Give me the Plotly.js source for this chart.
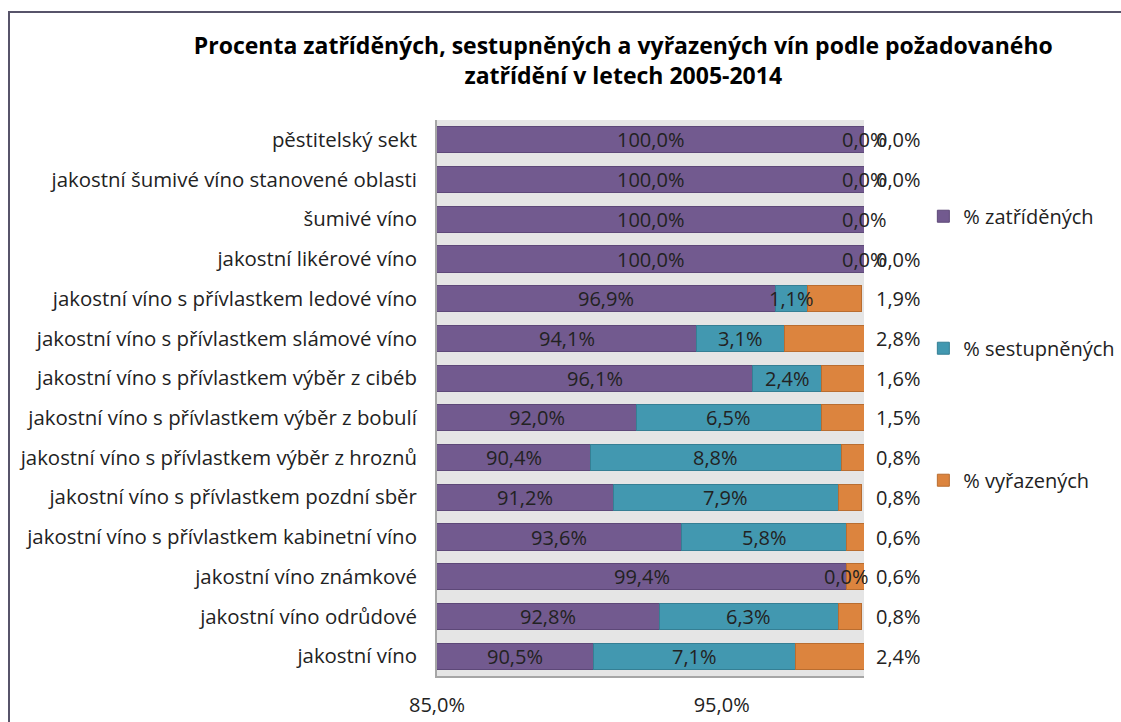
<!DOCTYPE html>
<html><head><meta charset="utf-8">
<script src="https://cdn.plot.ly/plotly-3.0.1.min.js"></script>
<style>
html,body{margin:0;padding:0;background:#fff;overflow:hidden;}
#chart{position:absolute;left:0;top:0;width:1121px;height:722px;}
#frame{position:absolute;left:8px;top:11px;width:1200px;height:800px;border-left:2px solid #57546a;border-top:2px solid #57546a;pointer-events:none;}
</style></head>
<body>
<div id="chart"></div>
<div id="frame"></div>
<script>
const categories = [
  "pěstitelský sekt",
  "jakostní šumivé víno stanovené oblasti",
  "šumivé víno",
  "jakostní likérové víno",
  "jakostní víno s přívlastkem ledové víno",
  "jakostní víno s přívlastkem slámové víno",
  "jakostní víno s přívlastkem výběr z cibéb",
  "jakostní víno s přívlastkem výběr z bobulí",
  "jakostní víno s přívlastkem výběr z hroznů",
  "jakostní víno s přívlastkem pozdní sběr",
  "jakostní víno s přívlastkem kabinetní víno",
  "jakostní víno známkové",
  "jakostní víno odrůdové",
  "jakostní víno"
];
const zatridenych   = [100.0, 100.0, 100.0, 100.0, 96.9, 94.1, 96.1, 92.0, 90.4, 91.2, 93.6, 99.4, 92.8, 90.5];
const sestupnenych  = [0.0, 0.0, 0.0, 0.0, 1.1, 3.1, 2.4, 6.5, 8.8, 7.9, 5.8, 0.0, 6.3, 7.1];
const vyrazenych    = [0.0, 0.0, 0.0, 0.0, 1.9, 2.8, 1.6, 1.5, 0.8, 0.8, 0.6, 0.6, 0.8, 2.4];
const showVyrazenychLabel = [true, true, false, true, true, true, true, true, true, true, true, true, true, true];
const seriesNames = ["% zatříděných", "% sestupněných", "% vyřazených"];
const xTickVals = [85, 95];
const xTickText = ["85,0%", "95,0%"];
const xMin = 85, xMax = 100;

const fmt = v => v.toFixed(1).replace('.', ',') + '%';
const FONT = '"Open Sans", "Noto Sans", sans-serif';
const colors = ['#725a8f', '#4298b0', '#dc843e'];
const lines = ['#5d4878', '#357f94', '#b96d30'];
const LBL = {family: FONT, size: 20, color: '#222'};

const traces = [zatridenych, sestupnenych, vyrazenych].map((vals, i) => ({
  type: 'bar', orientation: 'h', y: categories, x: vals, name: seriesNames[i],
  marker: {color: colors[i], line: {color: lines[i], width: 1}},
  width: 0.66, legendgroup: 'g' + i, hoverinfo: 'skip'
}));

const annotations = [];
categories.forEach((c, k) => {
  annotations.push({x: (xMin + Math.min(zatridenych[k], xMax)) / 2, y: c, xref: 'x', yref: 'y', xanchor: 'center',
    text: fmt(zatridenych[k]), showarrow: false, font: LBL});
  annotations.push({x: zatridenych[k] + sestupnenych[k] / 2, y: c, xref: 'x', yref: 'y', xanchor: 'center',
    text: fmt(sestupnenych[k]), showarrow: false, font: LBL});
  if (showVyrazenychLabel[k]) {
    annotations.push({x: 1, xshift: 34, y: c, xref: 'paper', yref: 'y', xanchor: 'center',
      text: fmt(vyrazenych[k]), showarrow: false, font: LBL});
  }
});

const layout = {
  width: 1121, height: 722,
  margin: {l: 437, r: 257, t: 120, b: 46, autoexpand: false},
  paper_bgcolor: '#ffffff', plot_bgcolor: '#e5e5e5',
  barmode: 'stack',
  title: {text: 'Procenta zatříděných, sestupněných a vyřazených vín podle požadovaného<br>zatřídění v letech 2005-2014',
    x: 0.556, xanchor: 'center', y: 0.925, yanchor: 'top',
    font: {family: FONT, size: 23, color: '#000', weight: 'bold'}},
  xaxis: {range: [xMin, xMax], tickvals: xTickVals, ticktext: xTickText, showgrid: false, zeroline: false,
    showline: true, linecolor: '#a6a6a6', linewidth: 2, ticks: '', ticklabelstandoff: 10,
    tickfont: {family: FONT, size: 20, color: '#222'}, fixedrange: true, automargin: false},
  yaxis: {autorange: 'reversed', showgrid: false, zeroline: false, showline: true, linecolor: '#a6a6a6', linewidth: 2,
    ticks: '', ticklabelstandoff: 14, tickfont: {family: FONT, size: 20.4, color: '#222'}, fixedrange: true, automargin: false},
  legend: {x: 1.139, xanchor: 'left', y: 0.862, yanchor: 'top', traceorder: 'grouped', tracegroupgap: 103,
    font: {family: FONT, size: 20, color: '#222'}, itemwidth: 30, bgcolor: 'rgba(0,0,0,0)'},
  annotations: annotations,
  showlegend: true
};

Plotly.newPlot('chart', traces, layout, {staticPlot: true});
</script>
</body></html>
